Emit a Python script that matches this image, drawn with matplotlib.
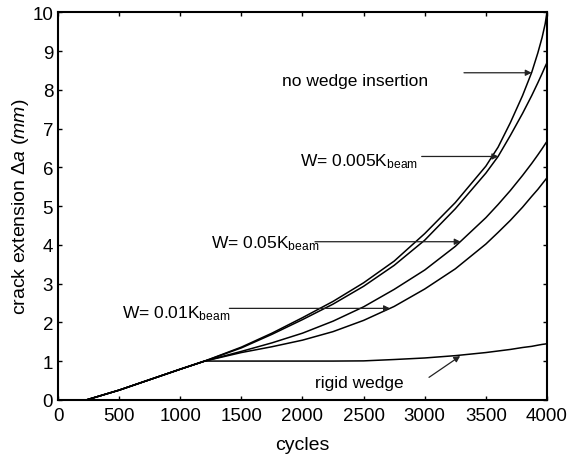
import matplotlib
matplotlib.use('Agg')
import matplotlib.pyplot as plt

plt.rcParams['font.family'] = ['Liberation Sans', 'DejaVu Sans']
plt.rcParams['mathtext.fontset'] = 'custom'
plt.rcParams['mathtext.rm'] = 'Liberation Sans'
plt.rcParams['mathtext.it'] = 'Liberation Sans:italic'

# data
cycles = [0, 235, 500, 750, 1000, 1200, 1500, 1750, 2000, 2250, 2500, 2750,
          3000, 3250, 3500, 3600, 3700, 3800, 3875, 3925, 3960, 3985, 4000]
no_wedge = [0, 0, 0.25, 0.52, 0.79, 1.0, 1.36, 1.72, 2.12, 2.54, 3.02, 3.58,
            4.29, 5.09, 6.03, 6.52, 7.15, 7.85, 8.45, 8.95, 9.35, 9.7, 10.0]
w_0005 = [0, 0, 0.25, 0.52, 0.79, 1.0, 1.34, 1.69, 2.07, 2.47, 2.93, 3.47,
          4.12, 4.93, 5.85, 6.28, 6.82, 7.39, 7.85, 8.18, 8.42, 8.6, 8.7]
w_005 = [0, 0, 0.25, 0.52, 0.79, 1.0, 1.25, 1.47, 1.72, 2.03, 2.40, 2.85,
         3.35, 3.96, 4.70, 5.04, 5.40, 5.79, 6.1, 6.32, 6.48, 6.6, 6.67]
w_001 = [0, 0, 0.25, 0.52, 0.79, 1.0, 1.22, 1.37, 1.54, 1.76, 2.05, 2.41,
         2.86, 3.38, 4.02, 4.32, 4.63, 4.97, 5.25, 5.43, 5.57, 5.67, 5.73]
rigid = [0, 0, 0.25, 0.52, 0.79, 1.0, 1.0, 1.0, 1.0, 1.0, 1.005, 1.04,
         1.08, 1.14, 1.22, 1.26, 1.30, 1.35, 1.38, 1.41, 1.43, 1.44, 1.45]

xticks = list(range(0, 4001, 500))
yticks = list(range(0, 11))

fig = plt.figure(figsize=(5.67, 4.56), dpi=100)
ax = fig.add_axes([0.1023, 0.121, 0.8624, 0.8498])

for curve in [no_wedge, w_0005, w_005, w_001, rigid]:
    ax.plot(cycles, curve, color='black', lw=1.1)

ax.set_xlim(0, 4000)
ax.set_ylim(0, 10)
ax.set_xticks(xticks)
ax.set_yticks(yticks)
ax.tick_params(direction='in', top=True, right=True, length=3, width=1,
               labelsize=13.5)
ax.tick_params(axis='x', pad=5.5)
ax.tick_params(axis='y', pad=3.5)
for s in ax.spines.values():
    s.set_linewidth(1.5)

ax.set_xlabel('cycles', fontsize=14, labelpad=8)
ax.set_ylabel('crack extension $\\mathit{\u0394a\\ (mm)}$', fontsize=14,
              labelpad=1)

arrow = dict(arrowstyle='-|>', lw=0.9, color='#222222', mutation_scale=9,
             shrinkA=0, shrinkB=0)
fs = 12.5

ax.text(1832, 8.12, 'no wedge insertion', fontsize=fs, ha='left', va='baseline')
ax.annotate('', xy=(3875, 8.44), xytext=(3321, 8.44), arrowprops=arrow)

ax.text(2945, 6.04, 'W= 0.005K$_{\\mathrm{beam}}$', fontsize=fs, ha='right', va='baseline')
ax.annotate('', xy=(3602, 6.28), xytext=(2975, 6.28), arrowprops=arrow)

ax.text(2135, 3.94, 'W= 0.05K$_{\\mathrm{beam}}$', fontsize=fs, ha='right', va='baseline')
ax.annotate('', xy=(3294, 4.08), xytext=(2102, 4.08), arrowprops=arrow)

ax.text(521, 2.13, 'W= 0.01K$_{\\mathrm{beam}}$', fontsize=fs, ha='left', va='baseline')
ax.annotate('', xy=(2716, 2.36), xytext=(1402, 2.36), arrowprops=arrow)

ax.text(2102, 0.32, 'rigid wedge', fontsize=fs, ha='left', va='baseline')
ax.annotate('', xy=(3290, 1.13), xytext=(3035, 0.58), arrowprops=arrow)

fig.savefig('out.png', dpi=100)
